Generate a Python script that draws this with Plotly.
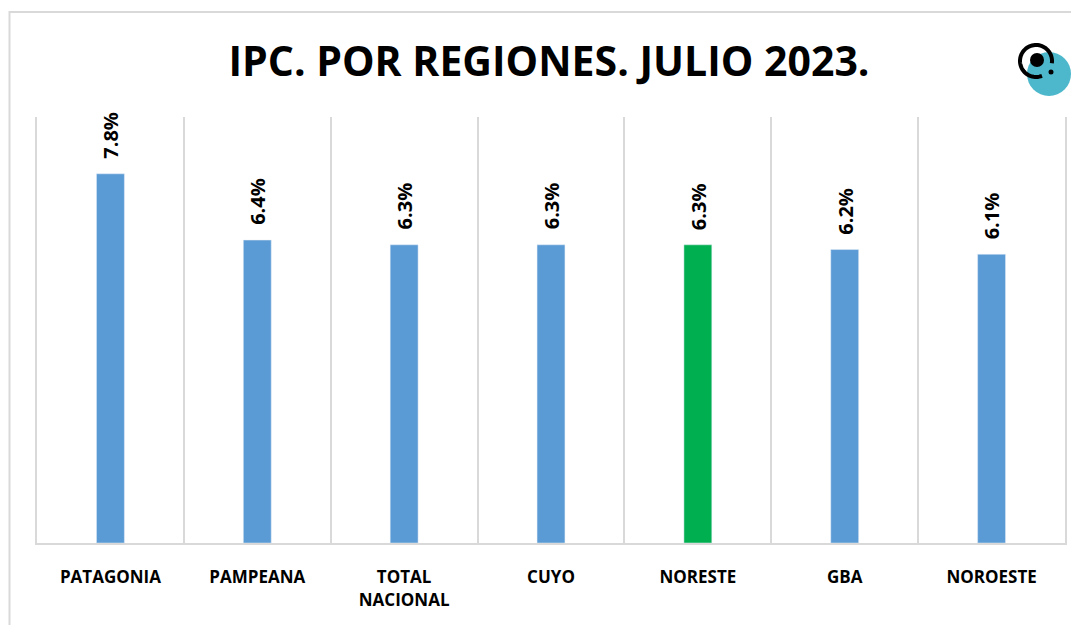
import numpy as np
import plotly.graph_objects as go

regiones = ["PATAGONIA", "PAMPEANA", "TOTAL<br>NACIONAL", "CUYO", "NORESTE", "GBA", "NOROESTE"]
ipc = [7.8, 6.4, 6.3, 6.3, 6.3, 6.2, 6.1]
etiquetas = ["7.8%", "6.4%", "6.3%", "6.3%", "6.3%", "6.2%", "6.1%"]
colores = ["#5b9bd5", "#5b9bd5", "#5b9bd5", "#5b9bd5", "#00b050", "#5b9bd5", "#5b9bd5"]

# la página tiene un margen de 8px en el body
OFF = 8
W, H = 1079, 625
L, R, T, B = 37 - OFF, 1079 - 1065 + OFF, 117 - OFF, 625 - 543 + OFF
pw, ph = W - L - R, H - T - B


def px(x):
    return (x - OFF - L) / pw


def py(y):
    return (H - B - (y - OFF)) / ph


fig = go.Figure(go.Bar(x=regiones, y=ipc, marker_color=colores, width=0.19))

for r, v, t in zip(regiones, ipc, etiquetas):
    fig.add_annotation(x=r, y=v, text=t, textangle=-90, showarrow=False,
                       yanchor="bottom", yshift=13,
                       font=dict(family="Open Sans", size=20, color="black", weight="bold"))

# marco exterior
fig.add_shape(type="rect", xref="paper", yref="paper",
              x0=px(9.5), x1=px(1100), y0=py(12), y1=py(650),
              line=dict(color="#d9d9d9", width=2), layer="below")

# logo
def circ(cx, cy, r, **kw):
    fig.add_shape(type="circle", xref="paper", yref="paper",
                  x0=px(cx - r), x1=px(cx + r), y0=py(cy - r), y1=py(cy + r), **kw)

circ(1049, 74, 22, fillcolor="#4db8cc", line=dict(width=0))
ang = np.radians(np.linspace(-8, 292, 60))
cx, cy, rr = 1036, 61, 16
pts = [(px(cx + rr * np.cos(a)), py(cy - rr * np.sin(a))) for a in ang]
path = "M " + " L ".join(f"{a:.5f},{b:.5f}" for a, b in pts)
fig.add_shape(type="path", xref="paper", yref="paper", path=path,
              line=dict(color="black", width=4))
circ(1037, 60, 7, fillcolor="black", line=dict(width=0))
circ(1051, 72, 2.5, fillcolor="black", line=dict(width=0))

fig.update_layout(
    width=W, height=H,
    margin=dict(l=L, r=R, t=T, b=B),
    plot_bgcolor="white", paper_bgcolor="white",
    showlegend=False,
    title=dict(text="IPC. POR REGIONES. JULIO 2023.", x=(549 - OFF) / W, xanchor="center",
               y=1 - (62 - OFF) / H, yanchor="middle",
               font=dict(family="Open Sans", size=41, color="black", weight="bold")),
)
fig.update_xaxes(tickson="boundaries", showgrid=True, gridcolor="#d9d9d9", gridwidth=2,
                 showline=True, linecolor="#d9d9d9", linewidth=2, ticks="",
                 ticklabelstandoff=18,
                 tickfont=dict(family="Open Sans", size=17, color="black", weight="bold"))
fig.update_yaxes(range=[0, 9], showticklabels=False, showgrid=False, zeroline=False,
                 showline=True, mirror=True, linecolor="#d9d9d9", linewidth=2, ticks="")

fig.write_html("out.html")
